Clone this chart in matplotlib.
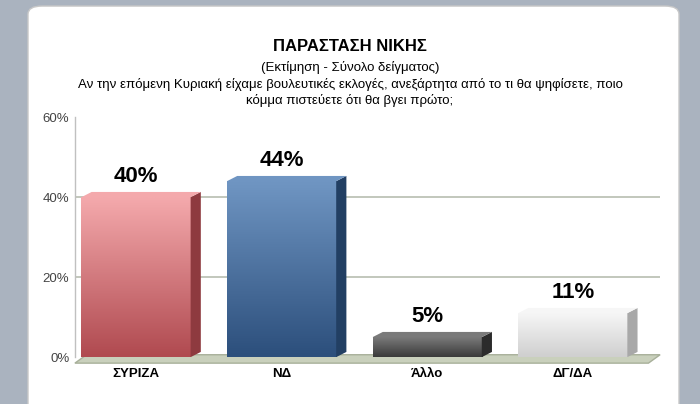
import matplotlib
matplotlib.use("Agg")
import matplotlib.pyplot as plt
import numpy as np
from matplotlib.patches import Polygon, FancyBboxPatch
from matplotlib.colors import LinearSegmentedColormap

plt.rcParams['font.family'] = ['Liberation Sans', 'DejaVu Sans']

categories = ["ΣΥΡΙΖΑ", "ΝΔ", "Άλλο", "ΔΓ/ΔΑ"]
values = [40, 44, 5, 11]
labels = ["40%", "44%", "5%", "11%"]
ticks = [0, 20, 40, 60]
tick_labels = ["0%", "20%", "40%", "60%"]
colors_top = ["#f4a9ac", "#6f95c2", "#7a7a7a", "#f6f6f6"]
colors_bot = ["#b04a50", "#2c4f7c", "#3a3a3a", "#cfcfcf"]
side_cols = ["#8e3a3f", "#223f63", "#2b2b2b", "#a8a8a8"]

fig = plt.figure(figsize=(7, 4.04), dpi=100)
fig.patch.set_facecolor("#aab3bf")
panel = FancyBboxPatch((0.04, -0.05), 0.93, 1.035, boxstyle="round,pad=0,rounding_size=0.02",
                       transform=fig.transFigure, facecolor="white", edgecolor="#c8c8c8", zorder=-10)
fig.patches.append(panel)

fig.text(0.5, 0.885, "ΠΑΡΑΣΤΑΣΗ ΝΙΚΗΣ", ha="center", va="center", fontsize=12, fontweight="bold")
fig.text(0.5, 0.832, "(Εκτίμηση - Σύνολο δείγματος)", ha="center", va="center", fontsize=9.5)
fig.text(0.5, 0.79, "Αν την επόμενη Κυριακή είχαμε βουλευτικές εκλογές, ανεξάρτητα από το τι θα ψηφίσετε, ποιο",
         ha="center", va="center", fontsize=9.5)
fig.text(0.5, 0.752, "κόμμα πιστεύετε ότι θα βγει πρώτο;", ha="center", va="center", fontsize=9.5)

ax = fig.add_axes([0.107, 0.116, 0.836, 0.594], zorder=5)
ax.set_facecolor("none")
w = 0.75
dx, dy = 0.07, 1.3

for g in [20, 40]:
    ax.plot([-0.42, 3.6], [g, g], color="#b8bdb0", lw=1.2, zorder=1)
ax.add_patch(Polygon([[-0.42, -1.5], [3.52, -1.5], [3.6, 0.6], [-0.34, 0.6]], closed=True,
                     facecolor="#c9d0bc", edgecolor="#a8b09a", zorder=2, clip_on=False))

for i, v in enumerate(values):
    x0 = i - w / 2
    grad = np.linspace(0, 1, 100).reshape(-1, 1)
    cm = LinearSegmentedColormap.from_list("c%d" % i, [colors_bot[i], colors_top[i]])
    ax.imshow(grad, cmap=cm, extent=[x0, x0 + w, 0, v], origin="lower", aspect="auto", zorder=3)
    ax.add_patch(Polygon([[x0 + w, 0], [x0 + w + dx, dy], [x0 + w + dx, v + dy], [x0 + w, v]],
                         closed=True, facecolor=side_cols[i], edgecolor="none", zorder=3))
    ax.add_patch(Polygon([[x0, v], [x0 + w, v], [x0 + w + dx, v + dy], [x0 + dx, v + dy]],
                         closed=True, facecolor=colors_top[i], edgecolor="none", zorder=3))
    ax.text(i, v + 2.5, labels[i], ha="center", va="bottom", fontsize=16, fontweight="bold", zorder=4)

ax.set_xlim(-0.42, 3.6)
ax.set_ylim(0, 60)
ax.set_yticks(ticks)
ax.set_yticklabels(tick_labels, fontsize=9.5, color="#444444")
ax.set_xticks(range(len(categories)))
ax.set_xticklabels(categories, fontsize=9.5, fontweight="bold")
ax.tick_params(length=0, pad=4)
ax.tick_params(axis="x", pad=8)
for s in ax.spines.values():
    s.set_visible(False)
ax.plot([-0.42, -0.42], [0, 60], color="#c0c0c0", lw=1, clip_on=False)

fig.savefig("out.png", dpi=100, facecolor=fig.get_facecolor())
